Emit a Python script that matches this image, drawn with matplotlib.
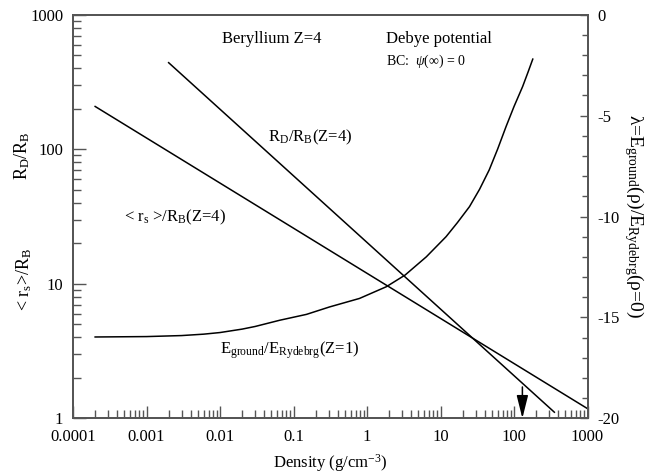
import matplotlib
matplotlib.use('Agg')
import matplotlib.pyplot as plt
from matplotlib.ticker import LogLocator, MultipleLocator, NullFormatter, FixedLocator, FixedFormatter

plt.rcParams['font.family'] = ['Liberation Serif', 'DejaVu Serif']
plt.rcParams['mathtext.fontset'] = 'custom'
plt.rcParams['mathtext.rm'] = 'Liberation Serif'
plt.rcParams['mathtext.it'] = 'Liberation Serif:italic'
plt.rcParams['mathtext.bf'] = 'Liberation Serif:bold'
plt.rcParams['axes.unicode_minus'] = False

# Debye radius / Bohr radius (Z=4), straight line on log-log
rho_debye = [0.002, 354]
rd_ratio = [440, 1.11]

# mean <r_s> / Bohr radius (Z=4)
rho_rs = [0.0002, 1000]
rs_ratio = [208, 1.18]

# ground state energy in Rydberg units (right axis)
rho_energy = [0.0002, 0.001, 0.003, 0.006, 0.01, 0.02, 0.03, 0.065, 0.15, 0.31, 0.79,
              1.83, 3.3, 6.4, 11.9, 17, 24.8, 34, 46, 60, 78, 100, 131, 155, 180]
energy = [-15.97, -15.95, -15.9, -15.83, -15.75, -15.58, -15.45, -15.14, -14.85, -14.48, -14.06,
          -13.48, -12.9, -12.0, -11.0, -10.3, -9.51, -8.65, -7.69, -6.65, -5.54, -4.55, -3.56,
          -2.85, -2.2]

# arrow marker on the density axis
arrow_rho = 130

x_ticks = [0.0001, 0.001, 0.01, 0.1, 1, 10, 100, 1000]
x_labels = ['0.0001', '0.001', '0.01', '0.1', '1', '10', '100', '1000']
y_ticks = [1, 10, 100, 1000]
y_labels = ['1', '10', '100', '1000']
e_ticks = [0, -5, -10, -15, -20]

spine_col = '#555555'

fig = plt.figure(figsize=(6.56, 4.76), dpi=100)
ax = fig.add_axes([0.1113, 0.1212, 0.7843, 0.8479])
ax2 = ax.twinx()

ax.plot(rho_debye, rd_ratio, color='k', lw=1.1)
ax.plot(rho_rs, rs_ratio, color='k', lw=1.1)
ax2.plot(rho_energy, energy, color='k', lw=1.1)

ax.set_xscale('log')
ax.set_yscale('log')
ax.set_xlim(0.0001, 1000)
ax.set_ylim(1, 1000)
ax2.set_ylim(-20, 0)

ax.xaxis.set_major_locator(FixedLocator(x_ticks))
ax.xaxis.set_major_formatter(FixedFormatter(x_labels))
ax.xaxis.set_minor_locator(LogLocator(base=10, subs=range(2, 10), numticks=20))
ax.xaxis.set_minor_formatter(NullFormatter())
ax.yaxis.set_major_locator(FixedLocator(y_ticks))
ax.yaxis.set_major_formatter(FixedFormatter(y_labels))
ax.yaxis.set_minor_locator(LogLocator(base=10, subs=range(2, 10), numticks=20))
ax.yaxis.set_minor_formatter(NullFormatter())
ax2.yaxis.set_major_locator(FixedLocator(e_ticks))
ax2.yaxis.set_minor_locator(MultipleLocator(1))

ax.tick_params(which='major', direction='in', length=9, width=1, color=spine_col,
               labelsize=12, pad=7, top=False, right=False)
ax.tick_params(which='minor', direction='in', length=5.5, width=1, color=spine_col,
               top=False, right=False)
ax.tick_params(axis='x', pad=8)
ax2.tick_params(which='major', direction='in', length=6, width=1, color=spine_col,
                labelsize=12, pad=7)
ax2.tick_params(which='minor', direction='in', length=4.5, width=1, color=spine_col)

for a in (ax, ax2):
    for s in a.spines.values():
        s.set_color(spine_col)
        s.set_linewidth(1.3)

ax.set_xlabel('Density (g/cm$^{\\mathrm{-3}}$)', fontsize=12, labelpad=5)
ax2.set_ylabel('\u03bb=E$_{\\mathrm{ground}}$(\u03c1)/E$_{\\mathrm{Rydebrg}}$(\u03c1=0)',
               fontsize=14, rotation=-90, va='bottom', labelpad=2)

fig.text(0.034, 0.672, 'R$_{\\mathrm{D}}$/R$_{\\mathrm{B}}$', rotation=90, fontsize=13,
         ha='center', va='center')
fig.text(0.037, 0.412, '< r$_{\\mathrm{s}}$>/R$_{\\mathrm{B}}$', rotation=90, fontsize=13,
         ha='center', va='center')

ax.text(0.0108, 664, 'Beryllium Z=4', fontsize=12, ha='left', va='center')
ax.text(1.83, 655, 'Debye potential', fontsize=12, ha='left', va='center')
ax.text(1.83, 450, 'BC:  $\\psi(\\infty)$ = 0', fontsize=10, ha='left', va='center')
ax.text(0.0449, 114, 'R$_{\\mathrm{D}}$/R$_{\\mathrm{B}}$(Z=4)', fontsize=12,
        ha='left', va='baseline')
ax.text(0.000493, 29, '< r$_{\\mathrm{s}}$ >/R$_{\\mathrm{B}}$(Z=4)', fontsize=12,
        ha='left', va='baseline')
ax.text(0.00993, 3.05, 'E$_{\\mathrm{ground}}$/E$_{\\mathrm{Rydebrg}}$(Z=1)', fontsize=12,
        ha='left', va='baseline')

ax.annotate('', xy=(arrow_rho, 1.0), xytext=(arrow_rho, 1.71),
            arrowprops=dict(arrowstyle='-|>,head_length=1.4,head_width=0.35',
                            color='k', lw=1.1, mutation_scale=10,
                            shrinkA=0, shrinkB=0))

fig.savefig('out.png', dpi=100)
